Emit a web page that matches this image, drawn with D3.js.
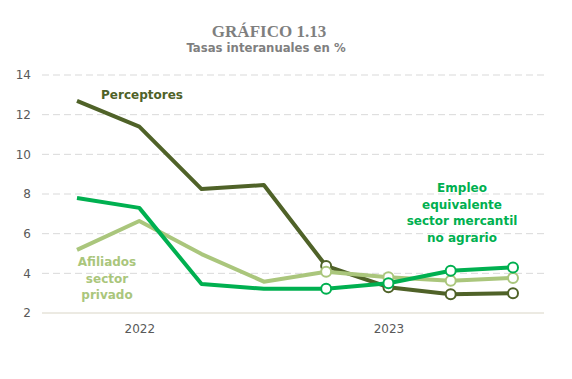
<!DOCTYPE html>
<html><head><meta charset="utf-8">
<script src="https://cdn.jsdelivr.net/npm/d3@7"></script>
<style>body{margin:0;background:#fff}svg{display:block}</style>
</head><body>
<svg id="c" width="572" height="379"></svg>
<script>
const categories = ["2022T1","2022T2","2022T3","2022T4","2023T1","2023T2","2023T3","2023T4"];
const xTickLabels = ["", "2022", "", "", "", "2023", "", ""];
const perceptores = [12.7, 11.4, 8.25, 8.45, 4.37, 3.3, 2.95, 3.0];
const afiliados = [5.18, 6.64, 4.97, 3.58, 4.08, 3.8, 3.63, 3.77];
const empleo = [7.8, 7.3, 3.46, 3.22, 3.22, 3.5, 4.13, 4.3];
const yTicks = [2, 4, 6, 8, 10, 12, 14];
const markerFrom = 4;

const svg = d3.select("#c");
const x = d3.scalePoint().domain(categories).range([77, 513]);
const y = d3.scaleLinear().domain([2, 14]).range([313, 75]);

// grid
svg.append("g").selectAll("line").data(yTicks).join("line")
  .attr("x1", 42).attr("x2", 544)
  .attr("y1", d => y(d)).attr("y2", d => y(d))
  .attr("stroke", d => d === 2 ? "#d9d5c6" : "#d9d9d9")
  .attr("stroke-width", 1)
  .attr("stroke-dasharray", d => d === 2 ? null : "7,4");

const yAxis = svg.append("g").attr("transform", "translate(35,0)")
  .call(d3.axisLeft(y).tickValues(yTicks).tickSize(0).tickPadding(4));
yAxis.select(".domain").remove();
yAxis.selectAll("text").attr("fill", "#595959").style("font-family", "DejaVu Sans, Verdana, sans-serif").style("font-size", "12px");

const xAxis = svg.append("g").attr("transform", "translate(0,313)")
  .call(d3.axisBottom(x).tickSize(0).tickPadding(11).tickFormat((d, i) => xTickLabels[i]));
xAxis.select(".domain").remove();
xAxis.selectAll("text").attr("fill", "#595959").style("font-family", "DejaVu Sans, Verdana, sans-serif").style("font-size", "12px");

const line = d3.line().x((d, i) => x(categories[i])).y(d => y(d));
const series = [
  {v: perceptores, c: "#4f6228"},
  {v: afiliados, c: "#aac67c"},
  {v: empleo, c: "#00b050"}
];
series.forEach(s => {
  svg.append("path").datum(s.v).attr("d", line)
    .attr("fill", "none").attr("stroke", s.c).attr("stroke-width", 4)
    .attr("stroke-linejoin", "round");
  svg.append("g").selectAll("circle")
    .data(s.v.map((v, i) => ({v, i})).filter(d => d.i >= markerFrom))
    .join("circle")
    .attr("cx", d => x(categories[d.i])).attr("cy", d => y(d.v))
    .attr("r", 5).attr("fill", "#fff").attr("stroke", s.c).attr("stroke-width", 2);
});

// titles
svg.append("text").attr("x", 269).attr("y", 37).attr("text-anchor", "middle")
  .attr("fill", "#7f7f7f").style("font-family", "Liberation Serif, serif").style("font-weight", "bold").style("font-size", "17px")
  .text("GRÁFICO 1.13");
svg.append("text").attr("x", 266).attr("y", 52).attr("text-anchor", "middle")
  .attr("fill", "#7f7f7f").style("font-family", "DejaVu Sans, Verdana, sans-serif").style("font-weight", "bold").style("font-size", "11.7px")
  .text("Tasas interanuales en %");

function label(lines, cx, y0, color) {
  const t = svg.append("text").attr("text-anchor", "middle").attr("fill", color)
    .style("font-family", "DejaVu Sans, Verdana, sans-serif").style("font-weight", "bold").style("font-size", "12px");
  lines.forEach((l, i) => t.append("tspan").attr("x", cx).attr("y", y0 + i * 16.5).text(l));
}
label(["Perceptores"], 142, 99, "#4f6228");
label(["Afiliados", "sector", "privado"], 107, 266, "#aac67c");
label(["Empleo", "equivalente", "sector mercantil", "no agrario"], 462, 192, "#00b050");
</script>
</body></html>
